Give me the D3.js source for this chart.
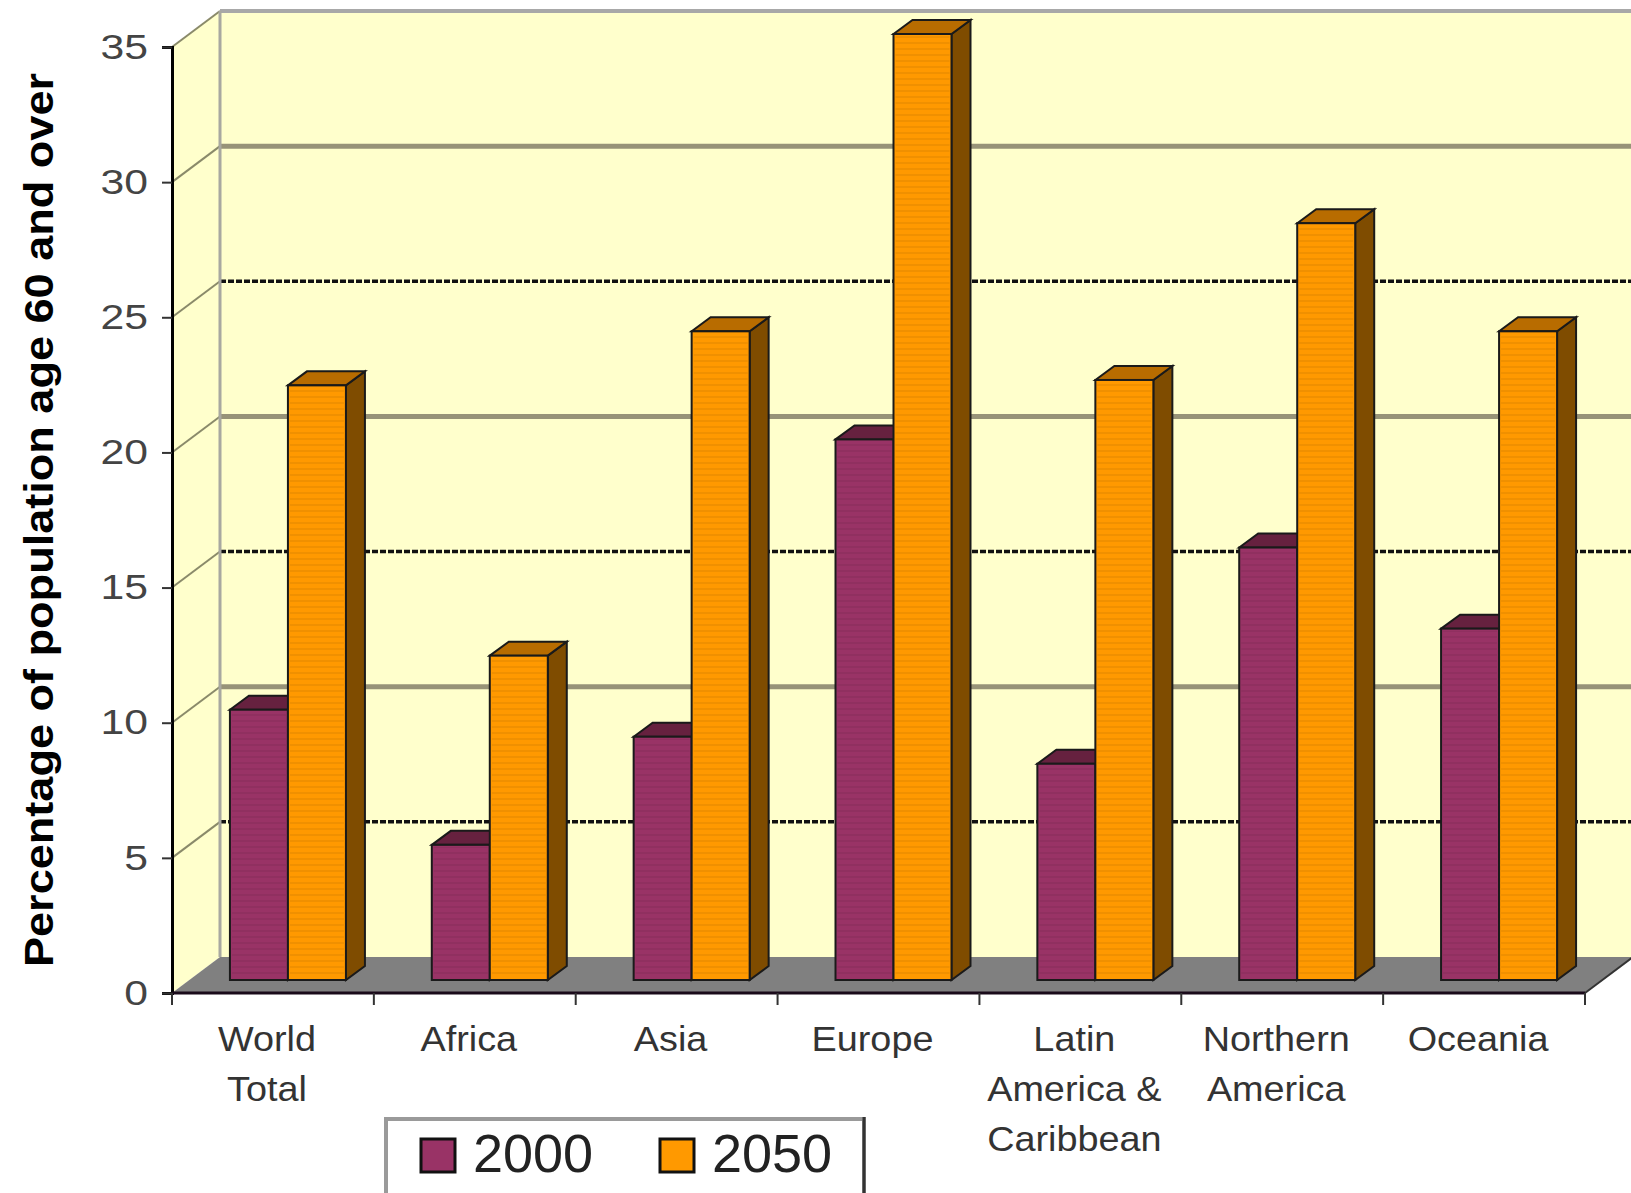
<!doctype html>
<html>
<head>
<meta charset="utf-8">
<script src="https://d3js.org/d3.v7.min.js"></script>
<style>
  body { margin: 0; background: #fff; }
  svg text { font-family: "Liberation Sans", Arial, sans-serif; }
</style>
</head>
<body>
<div id="chart"></div>
<script>
// data
var categories = ["World Total", "Africa", "Asia", "Europe", "Latin America & Caribbean", "Northern America", "Oceania"]
var labelLines = [["World", "Total"], ["Africa"], ["Asia"], ["Europe"], ["Latin", "America &", "Caribbean"], ["Northern", "America"], ["Oceania"]]
var series = ["2000", "2050"]
var values2000 = [10, 5, 9, 20, 8, 16, 13]
var values2050 = [22, 12, 24, 35, 22.2, 28, 24]
var yTicks = [0, 5, 10, 15, 20, 25, 30, 35]

var width = 1631, height = 1193

// front face colours, top face, side face
var colors = {
  "2000": { front: "#993366", top: "#66213f", side: "#5a1a3a" },
  "2050": { front: "#ff9900", top: "#b86c00", side: "#7f4c00" }
}

var svg = d3.select("#chart").append("svg")
  .attr("width", width)
  .attr("height", height)

// faint horizontal banding seen on the bars
var defs = svg.append("defs")
var pat = defs.append("pattern")
  .attr("id", "stripes")
  .attr("patternUnits", "userSpaceOnUse")
  .attr("width", 8).attr("height", 6)
pat.append("rect").attr("width", 8).attr("height", 2).attr("fill", "#000").attr("opacity", 0.06)

// scales
var x = d3.scaleBand().domain(categories).range([172, 1585])
var y = d3.scaleLinear().domain([0, 35]).range([993, 47])
var xs = d3.scaleBand().domain(series).range([0, 116])

// 3d offsets
var wall = { dx: 48, dy: -36 }   // full depth of the floor
var face = { dx: 15, dy: -13 }   // where the bar front sits
var bdep = { dx: 19, dy: -14 }   // bar depth

function pts(a) { return a.map(function(p) { return p.join(",") }).join(" ") }

// back wall
svg.append("rect")
  .attr("x", 172 + wall.dx).attr("y", y(35) + wall.dy)
  .attr("width", width - 172 - wall.dx + 10)
  .attr("height", y(0) - y(35))
  .attr("fill", "#ffffcc")

// left wall
svg.append("polygon")
  .attr("points", pts([[172, y(0)], [172, y(35)], [172 + wall.dx, y(35) + wall.dy], [172 + wall.dx, y(0) + wall.dy]]))
  .attr("fill", "#ffffcc")

// floor
var x1 = x.range()[1]
svg.append("polygon")
  .attr("points", pts([[172, y(0)], [x1, y(0)], [x1 + wall.dx, y(0) + wall.dy], [172 + wall.dx, y(0) + wall.dy]]))
  .attr("fill", "#808080")
svg.append("line")
  .attr("x1", x1).attr("y1", y(0)).attr("x2", x1 + wall.dx).attr("y2", y(0) + wall.dy)
  .attr("stroke", "#333").attr("stroke-width", 2)

// gridlines on the walls
var grid = yTicks.filter(function(d) { return d > 0 && d < 35 })
svg.selectAll(".gback").data(grid).enter().append("line")
  .attr("x1", 172 + wall.dx).attr("x2", width + 5)
  .attr("y1", function(d) { return y(d) + wall.dy })
  .attr("y2", function(d) { return y(d) + wall.dy })
  .attr("stroke", function(d, i) { return i % 2 ? "#979378" : "#111" })
  .attr("stroke-width", function(d, i) { return i % 2 ? 5 : 3.5 })
  .attr("stroke-dasharray", function(d, i) { return i % 2 ? null : "6,2" })
svg.selectAll(".gleft").data(grid.concat([35])).enter().append("line")
  .attr("x1", 172).attr("x2", 172 + wall.dx)
  .attr("y1", function(d) { return y(d) })
  .attr("y2", function(d) { return y(d) + wall.dy })
  .attr("stroke", "#8a8a6a")
  .attr("stroke-width", 2)

// wall edges
svg.append("line")
  .attr("x1", 172 + wall.dx).attr("x2", width + 5)
  .attr("y1", y(35) + wall.dy).attr("y2", y(35) + wall.dy)
  .attr("stroke", "#a8a8a8").attr("stroke-width", 4)
svg.append("line")
  .attr("x1", 172 + wall.dx).attr("x2", 172 + wall.dx)
  .attr("y1", y(35) + wall.dy).attr("y2", y(0) + wall.dy)
  .attr("stroke", "#a8a8a0").attr("stroke-width", 3)

// bars
var bars = []
categories.forEach(function(c, i) {
  bars.push({ cat: c, s: "2000", v: values2000[i] })
  bars.push({ cat: c, s: "2050", v: values2050[i] })
})

var pairOff = (x.bandwidth() - xs.range()[1]) / 2

var g = svg.selectAll(".bar").data(bars).enter().append("g")
g.each(function(d) {
  var el = d3.select(this)
  var bx = x(d.cat) + pairOff + xs(d.s) + face.dx
  var bw = xs.bandwidth()
  var top = y(d.v) + face.dy
  var bot = y(0) + face.dy
  var col = colors[d.s]
  // side
  el.append("polygon")
    .attr("points", pts([[bx + bw, top], [bx + bw + bdep.dx, top + bdep.dy], [bx + bw + bdep.dx, bot + bdep.dy], [bx + bw, bot]]))
    .attr("fill", col.side).attr("stroke", "#1a1a1a").attr("stroke-width", 2)
  // top
  el.append("polygon")
    .attr("points", pts([[bx, top], [bx + bdep.dx, top + bdep.dy], [bx + bw + bdep.dx, top + bdep.dy], [bx + bw, top]]))
    .attr("fill", col.top).attr("stroke", "#1a1a1a").attr("stroke-width", 2)
  // front
  el.append("rect")
    .attr("x", bx).attr("y", top)
    .attr("width", bw).attr("height", bot - top)
    .attr("fill", col.front).attr("stroke", "#1a1a1a").attr("stroke-width", 2)
  el.append("rect")
    .attr("x", bx + 2).attr("y", top + 2)
    .attr("width", bw - 4).attr("height", bot - top - 4)
    .attr("fill", "url(#stripes)")
})

// y axis
var yAxis = svg.append("g")
  .attr("transform", "translate(172,0)")
  .call(d3.axisLeft(y).tickValues(yTicks).tickSize(10).tickPadding(14))
yAxis.select(".domain").attr("stroke", "#000").attr("stroke-width", 3)
yAxis.selectAll(".tick line").attr("stroke", "#333").attr("stroke-width", 2)
yAxis.selectAll(".tick text")
  .attr("font-size", 35)
  .attr("fill", "#444")
  .style("font-family", "'Liberation Sans', Arial, sans-serif")
  .each(function() {
    var w = this.getComputedTextLength()
    d3.select(this).attr("textLength", w * 1.22).attr("lengthAdjust", "spacingAndGlyphs")
  })

// x axis line and ticks
svg.append("line")
  .attr("x1", 172).attr("x2", x1)
  .attr("y1", y(0)).attr("y2", y(0))
  .attr("stroke", "#1a0a1a").attr("stroke-width", 3)
var bounds = categories.map(function(c) { return x(c) }).concat([x1])
svg.selectAll(".xtick").data(bounds).enter().append("line")
  .attr("x1", function(d) { return d }).attr("x2", function(d) { return d })
  .attr("y1", y(0)).attr("y2", y(0) + 12)
  .attr("stroke", "#333").attr("stroke-width", 2)

// category labels
categories.forEach(function(c, i) {
  labelLines[i].forEach(function(line, j) {
    var t = svg.append("text")
      .attr("x", x(c) + x.bandwidth() / 2 - 6)
      .attr("y", 1051 + j * 50)
      .attr("text-anchor", "middle")
      .attr("font-size", 35)
      .attr("fill", "#333")
      .text(line)
    t.attr("textLength", t.node().getComputedTextLength() * 1.08)
      .attr("lengthAdjust", "spacingAndGlyphs")
  })
})

// y axis title
svg.append("text")
  .attr("transform", "translate(53,520) rotate(-90)")
  .attr("text-anchor", "middle")
  .attr("font-size", 40)
  .attr("font-weight", "bold")
  .attr("fill", "#000")
  .attr("textLength", 894)
  .attr("lengthAdjust", "spacingAndGlyphs")
  .text("Percentage of population age 60 and over")

// legend
var leg = svg.append("g")
leg.append("rect")
  .attr("x", 386).attr("y", 1119)
  .attr("width", 478).attr("height", 100)
  .attr("fill", "#fff").attr("stroke", "#9a9a9a").attr("stroke-width", 4)
leg.append("line")
  .attr("x1", 864).attr("x2", 864).attr("y1", 1117).attr("y2", 1193)
  .attr("stroke", "#333").attr("stroke-width", 3)
var legX = [421, 660]
series.forEach(function(s, i) {
  leg.append("rect")
    .attr("x", legX[i]).attr("y", 1139)
    .attr("width", 34).attr("height", 33)
    .attr("fill", colors[s].front)
    .attr("stroke", "#111").attr("stroke-width", 3)
  leg.append("text")
    .attr("x", legX[i] + 52).attr("y", 1172)
    .attr("font-size", 54)
    .attr("fill", "#222")
    .text(s)
})
</script>
</body>
</html>
